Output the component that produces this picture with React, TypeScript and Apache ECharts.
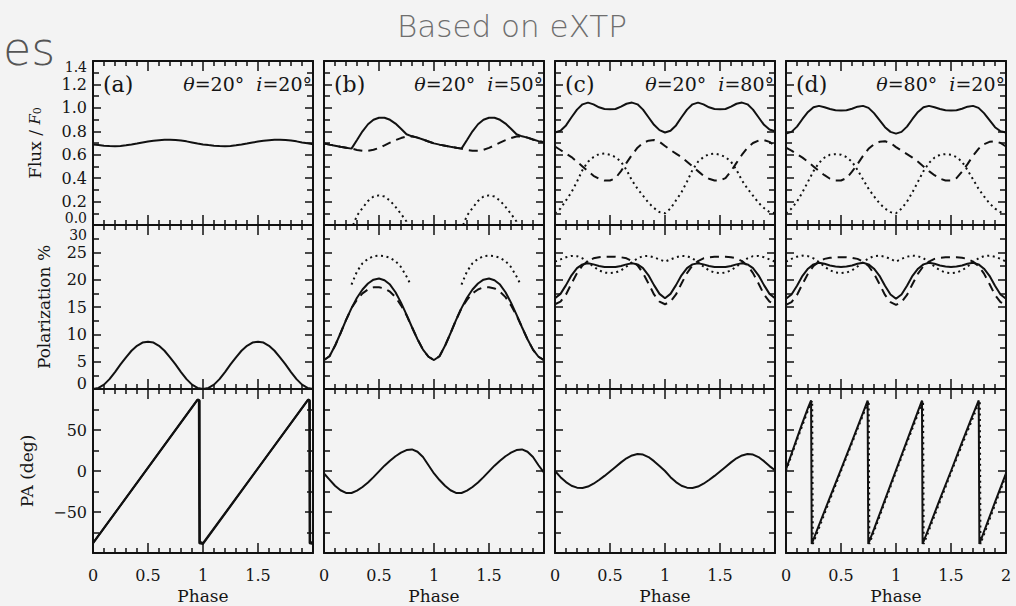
import React, { useEffect, useRef } from "react";
import * as echarts from "echarts";

// ---------------- data ----------------
const PHASE = [0, 0.05, 0.1, 0.15, 0.2, 0.25, 0.3, 0.35, 0.4, 0.45, 0.5, 0.55, 0.6, 0.65, 0.7, 0.75, 0.8, 0.85, 0.9, 0.95, 1,
  1.05, 1.1, 1.15, 1.2, 1.25, 1.3, 1.35, 1.4, 1.45, 1.5, 1.55, 1.6, 1.65, 1.7, 1.75, 1.8, 1.85, 1.9, 1.95, 2];

const X_TICKS = [0, 0.5, 1, 1.5, 2];
const FLUX_TICKS = [0, 0.2, 0.4, 0.6, 0.8, 1.0, 1.2, 1.4];
const POL_TICKS = [0, 5, 10, 15, 20, 25, 30];
const PA_TICKS = [-100, -50, 0, 50, 100];

const PANEL_TAGS = ["(a)", "(b)", "(c)", "(d)"];
const PANEL_THETA = ["20", "20", "20", "80"];
const PANEL_INC = ["20", "50", "80", "20"];

// (a) theta=20 i=20
const A_FLUX_SOLID = [0.687, 0.682, 0.677, 0.674, 0.673, 0.675, 0.68, 0.687, 0.695, 0.704, 0.712, 0.719, 0.724, 0.727, 0.728, 0.726, 0.721, 0.714, 0.705, 0.696, 0.688,
  0.682, 0.677, 0.674, 0.673, 0.675, 0.68, 0.687, 0.695, 0.704, 0.712, 0.719, 0.724, 0.727, 0.728, 0.726, 0.721, 0.714, 0.705, 0.697, 0.69];
const A_POL_SOLID = [0, 0.2, 0.8, 1.8, 3.1, 4.5, 5.8, 7.0, 7.9, 8.5, 8.65, 8.5, 7.9, 7.0, 5.8, 4.5, 3.1, 1.8, 0.8, 0.2, 0,
  0.2, 0.8, 1.8, 3.1, 4.5, 5.8, 7.0, 7.9, 8.5, 8.65, 8.5, 7.9, 7.0, 5.8, 4.5, 3.1, 1.8, 0.8, 0.2, 0];
const A_PA_SOLID = [[0, -88], [0.95, 87], [0.962, 87], [0.966, -88], [1, -89], [1.955, 87], [1.965, 87], [1.969, -88], [2, -89]];
const A_PA_DASH = [[0, -88], [0.952, 87], [0.97, 86], [0.972, -86], [1, -88], [1.957, 87], [1.972, 86], [1.974, -86], [2, -88]];

// (b) theta=20 i=50
const B_FLUX_SOLID = [0.696, 0.686, 0.677, 0.668, 0.66, 0.652, 0.725, 0.8, 0.86, 0.898, 0.915, 0.915, 0.898, 0.866, 0.822, 0.775, 0.757, 0.746, 0.73, 0.713, 0.697,
  0.686, 0.677, 0.668, 0.66, 0.652, 0.725, 0.8, 0.86, 0.898, 0.915, 0.915, 0.898, 0.866, 0.822, 0.775, 0.757, 0.746, 0.73, 0.716, 0.706];
const B_FLUX_DASH = [0.696, 0.686, 0.677, 0.668, 0.66, 0.652, 0.641, 0.634, 0.634, 0.642, 0.658, 0.68, 0.703, 0.724, 0.742, 0.755, 0.757, 0.746, 0.73, 0.713, 0.697,
  0.686, 0.677, 0.668, 0.66, 0.652, 0.641, 0.634, 0.634, 0.642, 0.658, 0.68, 0.703, 0.724, 0.742, 0.755, 0.757, 0.746, 0.73, 0.716, 0.706];
const B_FLUX_DOT = [[0.265, 0], [0.3, 0.08], [0.35, 0.145], [0.4, 0.205], [0.45, 0.243], [0.5, 0.253], [0.55, 0.243], [0.6, 0.208], [0.65, 0.155], [0.7, 0.095], [0.75, 0.03], [0.765, 0],
  [1, null], [1.265, 0], [1.3, 0.08], [1.35, 0.145], [1.4, 0.205], [1.45, 0.243], [1.5, 0.253], [1.55, 0.243], [1.6, 0.208], [1.65, 0.155], [1.7, 0.095], [1.75, 0.03], [1.765, 0]];
const B_POL_SOLID = [5.3, 6.0, 7.9, 10.2, 12.6, 14.8, 16.7, 18.2, 19.3, 20.0, 20.2, 19.9, 19.1, 17.7, 15.8, 13.6, 11.3, 9.1, 7.2, 5.9, 5.3,
  6.0, 7.9, 10.2, 12.6, 14.8, 16.7, 18.2, 19.3, 20.0, 20.2, 19.9, 19.1, 17.7, 15.8, 13.6, 11.3, 9.1, 7.2, 5.9, 5.3];
const B_POL_DASH = [5.3, 6.0, 7.9, 10.2, 12.6, 14.8, 16.3, 17.5, 18.2, 18.6, 18.6, 18.4, 17.8, 16.8, 15.3, 13.5, 11.3, 9.1, 7.2, 5.9, 5.3,
  6.0, 7.9, 10.2, 12.6, 14.8, 16.3, 17.5, 18.2, 18.6, 18.6, 18.4, 17.8, 16.8, 15.3, 13.5, 11.3, 9.1, 7.2, 5.9, 5.3];
const B_POL_DOT = [[0.25, 19.1], [0.3, 21.5], [0.35, 23.0], [0.4, 23.8], [0.45, 24.3], [0.5, 24.4], [0.55, 24.3], [0.6, 24.0], [0.65, 23.4], [0.7, 22.3], [0.75, 20.6], [0.78, 19.4],
  [1, null], [1.25, 19.1], [1.3, 21.5], [1.35, 23.0], [1.4, 23.8], [1.45, 24.3], [1.5, 24.4], [1.55, 24.3], [1.6, 24.0], [1.65, 23.4], [1.7, 22.3], [1.75, 20.6], [1.78, 19.4]];
const B_PA_SOLID = [-3, -10.5, -18, -23.5, -26.8, -26.8, -24, -19.5, -14, -7.5, -0.5, 6.5, 12.5, 18, 22.3, 25.5, 26.3, 23.5, 17, 7, -3,
  -11, -18, -23.5, -26.8, -26.8, -24, -19.5, -14, -7.5, -0.5, 6.5, 12.5, 18, 22.3, 25.5, 26.3, 23.5, 17, 7, -2];

// (c) theta=20 i=80
const C_FLUX_SOLID = [0.79, 0.805, 0.85, 0.92, 0.985, 1.03, 1.045, 1.03, 1.005, 0.99, 0.988, 0.99, 1.01, 1.035, 1.045, 1.03, 0.985, 0.92, 0.855, 0.81, 0.79,
  0.805, 0.85, 0.92, 0.985, 1.03, 1.045, 1.03, 1.005, 0.99, 0.988, 0.99, 1.01, 1.035, 1.045, 1.03, 0.985, 0.92, 0.855, 0.815, 0.8];
const C_FLUX_DASH = [0.67, 0.64, 0.61, 0.58, 0.54, 0.5, 0.46, 0.42, 0.395, 0.38, 0.38, 0.4, 0.46, 0.53, 0.6, 0.66, 0.7, 0.72, 0.725, 0.71, 0.675,
  0.64, 0.61, 0.58, 0.54, 0.5, 0.46, 0.42, 0.395, 0.38, 0.38, 0.4, 0.46, 0.53, 0.6, 0.66, 0.7, 0.72, 0.725, 0.71, 0.675];
const C_FLUX_DOT = [0.1, 0.14, 0.21, 0.28, 0.37, 0.47, 0.54, 0.58, 0.605, 0.61, 0.6, 0.58, 0.54, 0.47, 0.38, 0.31, 0.25, 0.19, 0.145, 0.11, 0.1,
  0.14, 0.21, 0.28, 0.37, 0.47, 0.54, 0.58, 0.605, 0.61, 0.6, 0.58, 0.54, 0.47, 0.38, 0.31, 0.25, 0.19, 0.145, 0.11, 0.1];
const C_POL_SOLID = [16.6, 17.4, 19.0, 20.8, 22.1, 22.8, 23.0, 22.8, 22.5, 22.3, 22.3, 22.3, 22.5, 22.8, 23.0, 22.8, 22.1, 20.8, 19.0, 17.4, 16.6,
  17.4, 19.0, 20.8, 22.1, 22.8, 23.0, 22.8, 22.5, 22.3, 22.3, 22.3, 22.5, 22.8, 23.0, 22.8, 22.1, 20.8, 19.0, 17.4, 16.6];
const C_POL_DASH = [15.5, 16.0, 17.3, 19.3, 21.2, 22.6, 23.4, 23.9, 24.1, 24.2, 24.2, 24.2, 24.1, 23.9, 23.4, 22.6, 21.2, 19.3, 17.3, 16.0, 15.5,
  16.0, 17.3, 19.3, 21.2, 22.6, 23.4, 23.9, 24.1, 24.2, 24.2, 24.2, 24.1, 23.9, 23.4, 22.6, 21.2, 19.3, 17.3, 16.0, 15.5];
const C_POL_DOT = [23.3, 23.7, 24.1, 24.35, 24.3, 23.9, 23.2, 22.4, 21.7, 21.3, 21.2, 21.3, 21.7, 22.4, 23.2, 23.9, 24.3, 24.35, 24.1, 23.7, 23.3,
  23.7, 24.1, 24.35, 24.3, 23.9, 23.2, 22.4, 21.7, 21.3, 21.2, 21.3, 21.7, 22.4, 23.2, 23.9, 24.3, 24.35, 24.1, 23.7, 23.3];
const C_PA_SOLID = [0, -7.5, -13.5, -18, -20.3, -20.7, -19, -15.5, -11, -6, -0.5, 5, 10.5, 15.5, 19, 20.7, 20, 17, 12, 6, 0,
  -7.5, -13.5, -18, -20.3, -20.7, -19, -15.5, -11, -6, -0.5, 5, 10.5, 15.5, 19, 20.7, 20, 17, 12, 6, 1];

// (d) theta=80 i=20
const D_FLUX_SOLID = [0.78, 0.795, 0.84, 0.905, 0.965, 1.005, 1.017, 1.005, 0.99, 0.98, 0.978, 0.98, 0.992, 1.01, 1.017, 1.0, 0.955, 0.895, 0.835, 0.795, 0.78,
  0.795, 0.84, 0.905, 0.965, 1.005, 1.017, 1.005, 0.99, 0.98, 0.978, 0.98, 0.992, 1.01, 1.017, 1.0, 0.955, 0.895, 0.835, 0.8, 0.79];
const D_FLUX_DASH = [0.66, 0.635, 0.605, 0.575, 0.54, 0.5, 0.46, 0.425, 0.395, 0.38, 0.38, 0.4, 0.455, 0.52, 0.59, 0.65, 0.69, 0.71, 0.715, 0.7, 0.665,
  0.635, 0.605, 0.575, 0.54, 0.5, 0.46, 0.425, 0.395, 0.38, 0.38, 0.4, 0.455, 0.52, 0.59, 0.65, 0.69, 0.71, 0.715, 0.7, 0.67];
const D_FLUX_DOT = [0.1, 0.14, 0.2, 0.28, 0.37, 0.46, 0.53, 0.575, 0.6, 0.605, 0.6, 0.58, 0.54, 0.47, 0.39, 0.31, 0.245, 0.185, 0.14, 0.11, 0.1,
  0.14, 0.2, 0.28, 0.37, 0.46, 0.53, 0.575, 0.6, 0.605, 0.6, 0.58, 0.54, 0.47, 0.39, 0.31, 0.245, 0.185, 0.14, 0.11, 0.1];
const D_POL_SOLID = [16.5, 17.3, 18.9, 20.7, 22.0, 22.8, 23.1, 22.9, 22.6, 22.4, 22.3, 22.4, 22.6, 22.9, 23.1, 22.8, 22.0, 20.7, 18.9, 17.3, 16.5,
  17.3, 18.9, 20.7, 22.0, 22.8, 23.1, 22.9, 22.6, 22.4, 22.3, 22.4, 22.6, 22.9, 23.1, 22.8, 22.0, 20.7, 18.9, 17.3, 16.5];
const D_POL_DASH = [15.4, 15.9, 17.2, 19.2, 21.1, 22.5, 23.3, 23.8, 24.0, 24.1, 24.1, 24.1, 24.0, 23.8, 23.3, 22.5, 21.1, 19.2, 17.2, 15.9, 15.4,
  15.9, 17.2, 19.2, 21.1, 22.5, 23.3, 23.8, 24.0, 24.1, 24.1, 24.1, 24.0, 23.8, 23.3, 22.5, 21.1, 19.2, 17.2, 15.9, 15.4];
const D_POL_DOT = [23.3, 23.8, 24.2, 24.4, 24.3, 23.9, 23.2, 22.4, 21.7, 21.3, 21.2, 21.3, 21.7, 22.4, 23.2, 23.9, 24.3, 24.4, 24.2, 23.8, 23.3,
  23.8, 24.2, 24.4, 24.3, 23.9, 23.2, 22.4, 21.7, 21.3, 21.2, 21.3, 21.7, 22.4, 23.2, 23.9, 24.3, 24.4, 24.2, 23.8, 23.3];
const D_PA_SOLID = [[0, 2], [0.05, 21], [0.1, 40], [0.15, 59], [0.2, 77], [0.228, 86], [0.234, -89], [0.3, -66], [0.4, -32], [0.5, 2], [0.6, 36], [0.7, 71], [0.742, 86], [0.748, -89],
  [0.8, -71], [0.9, -35], [1, 1], [1.1, 37], [1.2, 73], [1.236, 86], [1.242, -89], [1.3, -69], [1.4, -34], [1.5, 0], [1.6, 35], [1.7, 69], [1.752, 86], [1.758, -89],
  [1.8, -74], [1.9, -38], [2, -3]];
const D_PA_DOT = [[0, 0], [0.1, 38], [0.2, 74], [0.238, 86], [0.244, -89], [0.5, 0], [0.752, 86], [0.758, -89], [1, -1], [1.246, 86], [1.252, -89], [1.5, -2], [1.762, 86], [1.768, -89], [2, -5]];

// ---------------- layout / style ----------------
const INK = "#111";
const TXT = "#151515";
const SERIF = "'DejaVu Serif', serif";
const THIN = "'DejaVu Sans', sans-serif";
const L0 = 93, COLW = 220, COLSTEP = 231, T0 = 61, ROWH = 164;

const pts = (v: (number | null)[]) => PHASE.map((p, i) => [p, v[i]]);

const STYLES: Record<string, any> = {
  solid: { type: "solid", width: 2 },
  dash: { type: [9, 6], width: 2 },
  dot: { type: [2, 3.6], width: 2 },
};

const SERIES_SPEC: { r: number; c: number; d: any[]; s: string }[] = [
  { r: 0, c: 0, d: pts(A_FLUX_SOLID), s: "solid" },
  { r: 1, c: 0, d: pts(A_POL_SOLID), s: "solid" },
  { r: 2, c: 0, d: A_PA_DASH, s: "solid" },
  { r: 2, c: 0, d: A_PA_SOLID, s: "solid" },

  { r: 0, c: 1, d: pts(B_FLUX_DASH), s: "dash" },
  { r: 0, c: 1, d: B_FLUX_DOT, s: "dot" },
  { r: 0, c: 1, d: pts(B_FLUX_SOLID), s: "solid" },
  { r: 1, c: 1, d: pts(B_POL_DASH), s: "dash" },
  { r: 1, c: 1, d: B_POL_DOT, s: "dot" },
  { r: 1, c: 1, d: pts(B_POL_SOLID), s: "solid" },
  { r: 2, c: 1, d: pts(B_PA_SOLID), s: "solid" },

  { r: 0, c: 2, d: pts(C_FLUX_DASH), s: "dash" },
  { r: 0, c: 2, d: pts(C_FLUX_DOT), s: "dot" },
  { r: 0, c: 2, d: pts(C_FLUX_SOLID), s: "solid" },
  { r: 1, c: 2, d: pts(C_POL_DASH), s: "dash" },
  { r: 1, c: 2, d: pts(C_POL_DOT), s: "dot" },
  { r: 1, c: 2, d: pts(C_POL_SOLID), s: "solid" },
  { r: 2, c: 2, d: pts(C_PA_SOLID), s: "solid" },

  { r: 0, c: 3, d: pts(D_FLUX_DASH), s: "dash" },
  { r: 0, c: 3, d: pts(D_FLUX_DOT), s: "dot" },
  { r: 0, c: 3, d: pts(D_FLUX_SOLID), s: "solid" },
  { r: 1, c: 3, d: pts(D_POL_DASH), s: "dash" },
  { r: 1, c: 3, d: pts(D_POL_DOT), s: "dot" },
  { r: 1, c: 3, d: pts(D_POL_SOLID), s: "solid" },
  { r: 2, c: 3, d: D_PA_DOT, s: "dot" },
  { r: 2, c: 3, d: D_PA_SOLID, s: "solid" },
];

const labelBase = { fontFamily: SERIF, fontSize: 16, color: TXT };

// end labels of each row that sit off their tick in the reference (drawn as texts, offset in px)
const ROWS = [
  {
    ticks: FLUX_TICKS,
    name: "Flux / {it|F}{sub|0}",
    nameGap: 50,
    fmt: (v: number) => v.toFixed(1),
    endLabels: [{ v: 0, dy: -7, fs: 14 }, { v: 1.4, dy: 6, fs: 14 }],
  },
  {
    ticks: POL_TICKS,
    name: "Polarization %",
    nameGap: 41,
    fmt: (v: number) => String(v),
    endLabels: [{ v: 0, dy: -6, fs: 16 }, { v: 30, dy: 10, fs: 14 }],
  },
  {
    ticks: PA_TICKS,
    name: "PA (deg)",
    nameGap: 58,
    fmt: (v: number) => (v < 0 ? "\u2212" + Math.abs(v) : String(v)),
    endLabels: [],
  },
];

function buildOption() {
  const grid: any[] = [];
  const xAxis: any[] = [];
  const yAxis: any[] = [];
  const graphic: any[] = [];
  for (let r = 0; r < 3; r++) {
    for (let c = 0; c < 4; c++) {
      const g = r * 4 + c;
      const left = L0 + c * COLSTEP;
      const top = T0 + r * ROWH;
      grid.push({ left, top, width: COLW, height: ROWH, containLabel: false });
      const row = ROWS[r];
      const ticks = row.ticks;
      const yMin = ticks[0];
      const yMax = ticks[ticks.length - 1];
      const yInterval = ticks[1] - ticks[0];
      for (const isTop of [false, true]) {
        xAxis.push({
          type: "value",
          gridIndex: g,
          position: isTop ? "top" : "bottom",
          min: X_TICKS[0],
          max: X_TICKS[X_TICKS.length - 1],
          interval: X_TICKS[1] - X_TICKS[0],
          axisLine: { show: true, onZero: false, lineStyle: { color: INK, width: 2 } },
          axisTick: { show: true, inside: true, length: 10, lineStyle: { color: INK, width: 1.5 } },
          minorTick: { show: true, splitNumber: 5, length: 5, lineStyle: { color: INK, width: 1.5 } },
          splitLine: { show: false },
          minorSplitLine: { show: false },
          axisLabel: {
            show: !isTop && r === 2,
            showMinLabel: true,
            showMaxLabel: c === 3,
            ...labelBase,
            margin: 14,
          },
          name: !isTop && r === 2 ? "Phase" : "",
          nameLocation: "middle",
          nameGap: 34,
          nameTextStyle: { fontFamily: SERIF, fontSize: 17, color: TXT },
        });
      }
      for (const isRight of [false, true]) {
        const showLab = !isRight && c === 0;
        yAxis.push({
          type: "value",
          gridIndex: g,
          position: isRight ? "right" : "left",
          min: yMin,
          max: yMax,
          interval: yInterval,
          axisLine: { show: true, onZero: false, lineStyle: { color: INK, width: 2 } },
          axisTick: { show: true, inside: true, length: 8, lineStyle: { color: INK, width: 1.5 } },
          minorTick: { show: true, splitNumber: 2, length: 6, lineStyle: { color: INK, width: 1.5 } },
          splitLine: { show: false },
          minorSplitLine: { show: false },
          axisLabel: {
            show: showLab,
            ...labelBase,
            margin: 6,
            formatter: row.fmt,
            showMinLabel: false,
            showMaxLabel: false,
          },
          name: showLab ? row.name : "",
          nameLocation: "middle",
          nameGap: row.nameGap,
          nameTextStyle: {
            fontFamily: SERIF,
            fontSize: 17,
            color: TXT,
            rich: {
              it: { fontFamily: SERIF, fontSize: 15, fontStyle: "italic", color: TXT },
              sub: { fontFamily: SERIF, fontSize: 11, color: TXT, verticalAlign: "bottom" },
            },
          },
        });
      }
      if (c === 0) {
        for (const el of row.endLabels) {
          const yPix = top + ROWH * (1 - (el.v - yMin) / (yMax - yMin));
          graphic.push({
            type: "text",
            x: left - 6,
            y: yPix + el.dy,
            style: { text: row.fmt(el.v), fontFamily: SERIF, fontSize: el.fs, fill: TXT, align: "right", verticalAlign: "middle" },
          });
        }
      }
      if (r === 0) {
        graphic.push({
          type: "text",
          x: left + 10,
          y: top + 23,
          style: { text: PANEL_TAGS[c], fontFamily: SERIF, fontSize: 22, fill: TXT, align: "left", verticalAlign: "middle" },
        });
        graphic.push({
          type: "text",
          x: left + COLW - 1,
          y: top + 23,
          style: {
            text: "{it|\u03b8}=" + PANEL_THETA[c] + "\u00b0  {it|i}=" + PANEL_INC[c] + "\u00b0",
            fontFamily: SERIF,
            fontSize: 19,
            fill: TXT,
            align: "right",
            verticalAlign: "middle",
            rich: { it: { fontFamily: SERIF, fontSize: 19, fontStyle: "italic", fill: TXT } },
          },
        });
      }
    }
  }

  graphic.push({
    type: "text",
    x: 512,
    y: 26,
    style: { text: "Based on eXTP", fontFamily: THIN, fontWeight: 200, fontSize: 31, fill: "#6e6e6e", align: "center", verticalAlign: "middle" },
  });
  graphic.push({
    type: "text",
    x: 3,
    y: 49,
    style: { text: "es", fontFamily: THIN, fontWeight: 200, fontSize: 46, fill: "#555", align: "left", verticalAlign: "middle" },
  });

  const series = SERIES_SPEC.map((sp) => {
    const g = sp.r * 4 + sp.c;
    return {
      type: "line",
      xAxisIndex: g * 2,
      yAxisIndex: g * 2,
      data: sp.d,
      showSymbol: false,
      symbol: "none",
      silent: true,
      connectNulls: false,
      lineStyle: { color: INK, ...STYLES[sp.s] },
      z: 3,
    };
  });

  return {
    animation: false,
    backgroundColor: "#f3f3f3",
    tooltip: { show: false },
    grid,
    xAxis,
    yAxis,
    series,
    graphic,
  };
}

export default function App() {
  const ref = useRef<HTMLDivElement>(null);
  useEffect(() => {
    if (!ref.current) return;
    document.body.style.margin = "0";
    const chart = echarts.init(ref.current, undefined, { renderer: "svg" });
    chart.setOption(buildOption() as any);
    return () => chart.dispose();
  }, []);
  return (
    <div style={{ position: "fixed", left: 0, top: 0, width: 1016, height: 606, background: "#f3f3f3" }}>
      <div ref={ref} style={{ width: 1016, height: 606 }} />
    </div>
  );
}
